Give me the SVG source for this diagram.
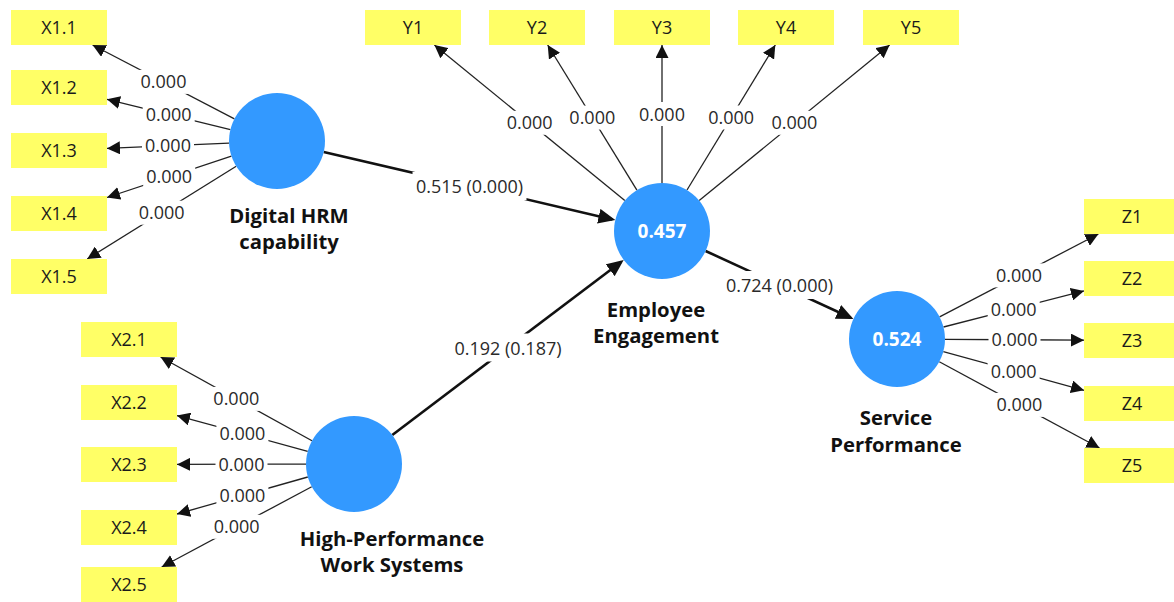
<svg xmlns="http://www.w3.org/2000/svg" width="1174" height="602" viewBox="0 0 1174 602">
<style>
  .box{fill:#FFFF66}
  .bt{font-family:"Open Sans","Noto Sans","Liberation Sans",sans-serif;font-size:18px;fill:#1a1a1a;text-anchor:middle}
  .lat{fill:#3399FF}
  .r2{font-family:"Open Sans","Noto Sans","Liberation Sans",sans-serif;font-size:19px;font-weight:bold;fill:#ffffff;text-anchor:middle}
  .nl{font-family:"Open Sans","Noto Sans","Liberation Sans",sans-serif;font-size:20.3px;font-weight:bold;fill:#111;text-anchor:middle}
  .ind{stroke:#222;stroke-width:1.3;fill:none;marker-end:url(#as)}
  .str{stroke:#111;stroke-width:2.6;fill:none;marker-end:url(#al)}
  .bg{fill:#ffffff}
  .lt{font-family:"Open Sans","Noto Sans","Liberation Sans",sans-serif;font-size:18px;fill:#2a2a2a;text-anchor:middle}
</style>
<defs>
  <marker id="as" markerWidth="14" markerHeight="13" refX="13" refY="6.5" orient="auto" markerUnits="userSpaceOnUse">
    <path d="M0,0 L13,6.5 L0,13 z" fill="#111"/>
  </marker>
  <marker id="al" markerWidth="18" markerHeight="15" refX="14" refY="7.5" orient="auto" markerUnits="userSpaceOnUse">
    <path d="M0,0 L17,7.5 L0,15 z" fill="#111"/>
  </marker>
</defs>
<rect width="1174" height="602" fill="#ffffff"/>

<g id="connectors">
  <!-- Digital HRM indicators -->
  <line class="ind" x1="234.4" y1="118.8" x2="92.6" y2="45"/>
  <line class="ind" x1="230.4" y1="129.6" x2="107" y2="99.3"/>
  <line class="ind" x1="229" y1="143.1" x2="107" y2="148.4"/>
  <line class="ind" x1="231.4" y1="156.1" x2="107" y2="197.5"/>
  <line class="ind" x1="236.2" y1="166.3" x2="87.2" y2="259"/>
  <!-- Employee Engagement indicators -->
  <line class="ind" x1="624.8" y1="200.6" x2="434.4" y2="45"/>
  <line class="ind" x1="636.9" y1="190.1" x2="547.7" y2="45"/>
  <line class="ind" x1="662" y1="183" x2="662" y2="45"/>
  <line class="ind" x1="687" y1="190" x2="775.3" y2="45"/>
  <line class="ind" x1="699.2" y1="200.6" x2="889.6" y2="45"/>
  <!-- Service Performance indicators -->
  <line class="ind" x1="939.6" y1="316.8" x2="1098.4" y2="234"/>
  <line class="ind" x1="943.5" y1="327" x2="1084" y2="290.9"/>
  <line class="ind" x1="945" y1="339.3" x2="1084" y2="340.2"/>
  <line class="ind" x1="943.3" y1="351.7" x2="1084" y2="390.3"/>
  <line class="ind" x1="939.3" y1="361.8" x2="1099.5" y2="448"/>
  <!-- HPWS indicators -->
  <line class="ind" x1="312" y1="440.8" x2="160.6" y2="357"/>
  <line class="ind" x1="307.7" y1="451.3" x2="177" y2="415.6"/>
  <line class="ind" x1="306" y1="464.1" x2="177" y2="464.4"/>
  <line class="ind" x1="307.8" y1="477" x2="177" y2="514"/>
  <line class="ind" x1="311.7" y1="486.7" x2="161.7" y2="567"/>
  <!-- Structural paths -->
  <line class="str" x1="323.7" y1="151.9" x2="612.4" y2="219.4"/>
  <line class="str" x1="392.3" y1="435" x2="621.3" y2="261.8"/>
  <line class="str" x1="705.6" y1="251" x2="850.7" y2="317.7"/>

  <!-- labels -->
  <g>
    <rect class="bg" x="137.5" y="69.9" width="52" height="24"/><text class="lt" x="163.5" y="88.4">0.000</text>
    <rect class="bg" x="142.7" y="102.5" width="52" height="24"/><text class="lt" x="168.7" y="121">0.000</text>
    <rect class="bg" x="142" y="133.8" width="52" height="24"/><text class="lt" x="168" y="152.3">0.000</text>
    <rect class="bg" x="143.2" y="164.8" width="52" height="24"/><text class="lt" x="169.2" y="183.3">0.000</text>
    <rect class="bg" x="135.7" y="200.7" width="52" height="24"/><text class="lt" x="161.7" y="219.2">0.000</text>

    <rect class="bg" x="503.6" y="110.8" width="52" height="24"/><text class="lt" x="529.6" y="129.3">0.000</text>
    <rect class="bg" x="566.3" y="105.6" width="52" height="24"/><text class="lt" x="592.3" y="124.1">0.000</text>
    <rect class="bg" x="636" y="102" width="52" height="24"/><text class="lt" x="662" y="120.5">0.000</text>
    <rect class="bg" x="705.2" y="105.5" width="52" height="24"/><text class="lt" x="731.2" y="124">0.000</text>
    <rect class="bg" x="768.4" y="110.8" width="52" height="24"/><text class="lt" x="794.4" y="129.3">0.000</text>

    <rect class="bg" x="993" y="263.4" width="52" height="24"/><text class="lt" x="1019" y="281.9">0.000</text>
    <rect class="bg" x="987.7" y="297" width="52" height="24"/><text class="lt" x="1013.7" y="315.5">0.000</text>
    <rect class="bg" x="988.5" y="327.8" width="52" height="24"/><text class="lt" x="1014.5" y="346.3">0.000</text>
    <rect class="bg" x="987.6" y="359" width="52" height="24"/><text class="lt" x="1013.6" y="377.5">0.000</text>
    <rect class="bg" x="993.4" y="392.9" width="52" height="24"/><text class="lt" x="1019.4" y="411.4">0.000</text>

    <rect class="bg" x="210.3" y="386.9" width="52" height="24"/><text class="lt" x="236.3" y="405.4">0.000</text>
    <rect class="bg" x="216.4" y="421.5" width="52" height="24"/><text class="lt" x="242.4" y="440">0.000</text>
    <rect class="bg" x="215.5" y="452.2" width="52" height="24"/><text class="lt" x="241.5" y="470.7">0.000</text>
    <rect class="bg" x="216.4" y="483.5" width="52" height="24"/><text class="lt" x="242.4" y="502">0.000</text>
    <rect class="bg" x="210.7" y="514.8" width="52" height="24"/><text class="lt" x="236.7" y="533.3">0.000</text>

    <rect class="bg" x="412.5" y="172" width="114" height="28"/><text class="lt" x="469.5" y="193">0.515 (0.000)</text>
    <rect class="bg" x="451" y="333.5" width="114" height="28"/><text class="lt" x="508" y="354.5">0.192 (0.187)</text>
    <rect class="bg" x="722.5" y="271" width="114" height="28"/><text class="lt" x="779.5" y="292">0.724 (0.000)</text>
  </g>
</g>

<!-- Latent variables -->
<g id="digital-hrm">
  <circle class="lat" cx="277" cy="141" r="48"/>
  <text class="nl" x="289" y="223">Digital HRM</text>
  <text class="nl" x="289" y="249">capability</text>
</g>
<g id="hpws">
  <circle class="lat" cx="354" cy="464" r="48"/>
  <text class="nl" x="392" y="546">High-Performance</text>
  <text class="nl" x="392" y="572">Work Systems</text>
</g>
<g id="employee-engagement">
  <circle class="lat" cx="662" cy="231" r="48"/>
  <text class="r2" x="662" y="238">0.457</text>
  <text class="nl" x="656" y="316.5">Employee</text>
  <text class="nl" x="656" y="343">Engagement</text>
</g>
<g id="service-performance">
  <circle class="lat" cx="897" cy="339" r="48"/>
  <text class="r2" x="897" y="346">0.524</text>
  <text class="nl" x="896" y="425">Service</text>
  <text class="nl" x="896" y="451.5">Performance</text>
</g>

<!-- Indicators X1 -->
<g id="X1.1"><rect class="box" x="11" y="10" width="96" height="35"/><text class="bt" x="59" y="34">X1.1</text></g>
<g id="X1.2"><rect class="box" x="11" y="70" width="96" height="35"/><text class="bt" x="59" y="94">X1.2</text></g>
<g id="X1.3"><rect class="box" x="11" y="133" width="96" height="35"/><text class="bt" x="59" y="157">X1.3</text></g>
<g id="X1.4"><rect class="box" x="11" y="196" width="96" height="35"/><text class="bt" x="59" y="220">X1.4</text></g>
<g id="X1.5"><rect class="box" x="11" y="259" width="96" height="35"/><text class="bt" x="59" y="283">X1.5</text></g>

<!-- Indicators X2 -->
<g id="X2.1"><rect class="box" x="81" y="322" width="96" height="35"/><text class="bt" x="129" y="346">X2.1</text></g>
<g id="X2.2"><rect class="box" x="81" y="385" width="96" height="35"/><text class="bt" x="129" y="409">X2.2</text></g>
<g id="X2.3"><rect class="box" x="81" y="447" width="96" height="35"/><text class="bt" x="129" y="471">X2.3</text></g>
<g id="X2.4"><rect class="box" x="81" y="510" width="96" height="35"/><text class="bt" x="129" y="534">X2.4</text></g>
<g id="X2.5"><rect class="box" x="81" y="567" width="96" height="35"/><text class="bt" x="129" y="591">X2.5</text></g>

<!-- Indicators Y -->
<g id="Y1"><rect class="box" x="365" y="10" width="96" height="35"/><text class="bt" x="413" y="34">Y1</text></g>
<g id="Y2"><rect class="box" x="489" y="10" width="96" height="35"/><text class="bt" x="537" y="34">Y2</text></g>
<g id="Y3"><rect class="box" x="614" y="10" width="96" height="35"/><text class="bt" x="662" y="34">Y3</text></g>
<g id="Y4"><rect class="box" x="738" y="10" width="96" height="35"/><text class="bt" x="786" y="34">Y4</text></g>
<g id="Y5"><rect class="box" x="863" y="10" width="96" height="35"/><text class="bt" x="911" y="34">Y5</text></g>

<!-- Indicators Z -->
<g id="Z1"><rect class="box" x="1084" y="199" width="96" height="35"/><text class="bt" x="1132" y="223">Z1</text></g>
<g id="Z2"><rect class="box" x="1084" y="261" width="96" height="35"/><text class="bt" x="1132" y="285">Z2</text></g>
<g id="Z3"><rect class="box" x="1084" y="323" width="96" height="35"/><text class="bt" x="1132" y="347">Z3</text></g>
<g id="Z4"><rect class="box" x="1084" y="386" width="96" height="35"/><text class="bt" x="1132" y="410">Z4</text></g>
<g id="Z5"><rect class="box" x="1084" y="448" width="96" height="35"/><text class="bt" x="1132" y="472">Z5</text></g>
</svg>
